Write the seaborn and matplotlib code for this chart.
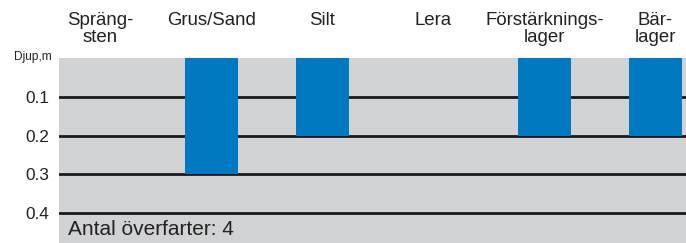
import pandas as pd
import seaborn as sns
import matplotlib.pyplot as plt
import matplotlib.transforms as mtransforms

# Material layers and how deep the compaction reaches (m)
categories = ['Spräng-\nsten', 'Grus/Sand', 'Silt', 'Lera', 'Förstärknings-\nlager', 'Bär-\nlager']
depths = [0.0, 0.3, 0.2, 0.0, 0.2, 0.2]
depth_ticks = [0.1, 0.2, 0.3, 0.4]
depth_labels = ['0.1', '0.2', '0.3', '0.4']
passes = 4

df = pd.DataFrame({'material': categories, 'depth': depths})

sns.set_style('white')
plt.rcParams['font.family'] = ['Liberation Sans', 'DejaVu Sans']

fig = plt.figure(figsize=(6.86, 2.43), dpi=100)
ax = fig.add_axes([59 / 686, 0, 627 / 686, 184.6 / 243])
ax.set_facecolor('#d1d2d4')

sns.barplot(data=df, x='material', y='depth', order=categories, color='#0079c1',
            saturation=1, width=0.477, linewidth=0, ax=ax, zorder=3)

ax.set_xlim(-0.374, 5.275)
ax.set_ylim(0.4786, 0)

# horizontal depth lines
ax.set_yticks(depth_ticks)
ax.set_yticklabels(depth_labels, fontsize=12.4, color='#222222')
ax.yaxis.grid(True, color='#1a1a1a', linewidth=2)
ax.set_axisbelow(True)
ax.tick_params(axis='y', length=0, pad=7)
ax.set_xticks([])
ax.set_xlabel('')
ax.set_ylabel('')
for s in ax.spines.values():
    s.set_visible(False)

# category names above the chart
trans = mtransforms.blended_transform_factory(ax.transData, ax.transAxes)
for i, name in enumerate(categories):
    ax.text(i, 1.252, name, transform=trans, ha='center', va='top',
            fontsize=13.4, color='#222222', linespacing=0.98, multialignment='center')

fig.text(52 / 686, 1 - 60 / 243, 'Djup,m', ha='right', va='baseline', fontsize=8.6, color='#222222')
ax.text(9 / 627, 0.02, f'Antal överfarter: {passes}', transform=ax.transAxes,
        ha='left', va='bottom', fontsize=15, color='#222222')

fig.savefig('out.png', dpi=100)
